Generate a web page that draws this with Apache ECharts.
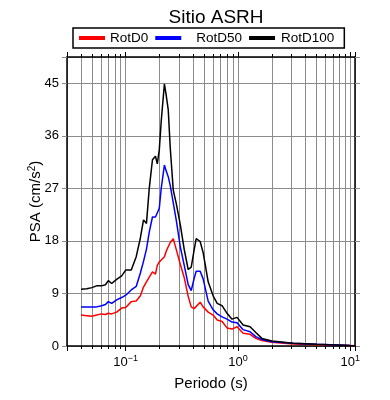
<!DOCTYPE html>
<html>
<head>
<meta charset="utf-8">
<script src="https://cdn.jsdelivr.net/npm/echarts@6/dist/echarts.min.js"></script>
<style>
  html, body { margin: 0; padding: 0; background: #fff; }
  #chart { width: 390px; height: 400px; }
</style>
</head>
<body>
<div id="chart"></div>
<script>
// periodo (s)
const periods = [0.040, 0.045, 0.050, 0.055, 0.061, 0.066, 0.070, 0.075, 0.083, 0.092,
  0.10, 0.112, 0.124, 0.135, 0.144, 0.153, 0.162, 0.173, 0.184, 0.191,
  0.199, 0.207, 0.221, 0.229, 0.239, 0.249, 0.265, 0.282, 0.306, 0.332,
  0.360, 0.383, 0.407, 0.424, 0.460, 0.489, 0.542, 0.600, 0.652, 0.721,
  0.798, 0.884, 0.980, 1.11, 1.28, 1.44, 1.63, 2.0, 3.1, 5.0,
  9.9, 11];

const rotD0 = [5.3, 5.2, 5.1, 5.3, 5.5, 5.4, 5.6, 5.5, 5.8, 6.5,
  6.6, 7.6, 7.7, 8.6, 10.1, 11.0, 11.8, 12.7, 12.3, 13.8,
  14.4, 14.4, 15.3, 16.2, 17.0, 17.7, 18.4, 16.5, 14.0, 11.7,
  8.5, 6.7, 6.4, 6.5, 7.5, 6.7, 5.8, 5.3, 4.45, 4.2,
  3.1, 2.9, 3.3, 2.2, 2.0, 1.3, 0.95, 0.65, 0.35, 0.2,
  0.08, 0.05];

const rotD50 = [6.7, 6.7, 6.7, 6.7, 6.9, 7.1, 7.6, 7.3, 7.9, 8.3,
  8.7, 9.6, 10.2, 12.5, 14.5, 16.6, 19.5, 22.1, 22.1, 22.0,
  23.6, 27.0, 31.0, 30.0, 29.0, 27.5, 24.5, 21.5, 17.0, 13.8,
  10.5, 9.5, 11.6, 12.8, 12.8, 11.5, 7.7, 6.2, 5.5, 5.0,
  4.6, 4.1, 4.0, 2.8, 2.45, 1.6, 1.1, 0.72, 0.45, 0.28,
  0.07, 0.05];

const rotD100 = [9.7, 9.8, 10.0, 10.3, 10.3, 10.5, 11.2, 10.7, 11.4, 12.0,
  13.0, 13.0, 15.3, 18.5, 21.6, 21.0, 27.0, 31.9, 32.5, 31.2,
  33.6, 38.5, 44.9, 43.0, 40.5, 34.0, 26.7, 24.4, 20.8, 16.5,
  13.1, 13.5, 16.5, 18.4, 17.9, 16.0, 11.0, 8.6, 7.3, 6.9,
  5.6, 4.6, 4.9, 3.6, 3.3, 2.3, 1.3, 0.85, 0.46, 0.28,
  0.08, 0.05];

const yTicks = [0, 9, 18, 27, 36, 45];
const xMin = 0.03, xMax = 11, yMax = 49.5;

const font = 'Liberation Sans';
const gridColor = '#8c8c8c';

function pairs(vals) {
  return periods.map((p, i) => [p, vals[i]]);
}

function powLabel(v) {
  const e = Math.log10(v);
  const r = Math.round(e);
  if (Math.abs(e - r) > 1e-6) return '';
  return '{b|10}{s|' + (r < 0 ? '\u2212' + (-r) : r) + '}';
}

const chart = echarts.init(document.getElementById('chart'));

const mkSeries = (name, vals, color) => ({
  name: name,
  type: 'line',
  data: pairs(vals),
  showSymbol: false,
  symbol: 'none',
  lineStyle: { color: color, width: 1.5 },
  itemStyle: { color: color },
  animation: false
});

chart.setOption({
  animation: false,
  title: {
    text: 'Sitio ASRH',
    left: 211,
    textAlign: 'center',
    top: 3,
    textStyle: { fontFamily: font, fontSize: 19, fontWeight: 'normal', color: '#000' }
  },
  legend: {
    left: 73,
    top: 28,
    padding: [3, 10, 3, 6],
    borderColor: '#000',
    borderWidth: 1.5,
    borderRadius: 0,
    backgroundColor: '#fff',
    icon: 'rect',
    itemWidth: 26,
    itemHeight: 4,
    itemGap: 7,
    textStyle: { fontFamily: font, fontSize: 13.5, color: '#000' },
    data: [
      { name: 'RotD0' },
      { name: 'RotD50', textStyle: { padding: [0, 4, 0, 10] } },
      { name: 'RotD100', textStyle: { padding: [0, 0, 0, 1] } }
    ]
  },
  grid: { left: 67, right: 35, top: 57, bottom: 54 },
  xAxis: [{
    type: 'log',
    logBase: 10,
    min: xMin,
    max: xMax,
    name: 'Periodo (s)',
    nameLocation: 'middle',
    nameGap: 30,
    nameMoveOverlap: false,
    nameTextStyle: { fontFamily: font, fontSize: 15, color: '#000' },
    axisLine: { show: true, onZero: false, lineStyle: { color: '#000', width: 1.5 } },
    axisTick: { show: true, inside: false, length: 5, lineStyle: { color: '#000' } },
    minorTick: { show: true, splitNumber: 9, length: 3, lineStyle: { color: '#000' } },
    splitLine: { show: true, lineStyle: { color: gridColor, width: 1 } },
    minorSplitLine: { show: true, lineStyle: { color: gridColor, width: 1 } },
    axisLabel: {
      margin: 8,
      showMinLabel: false,
      showMaxLabel: false,
      formatter: powLabel,
      rich: {
        b: { fontFamily: font, fontSize: 13, color: '#000' },
        s: { fontFamily: font, fontSize: 9, color: '#000', padding: [0, 0, 7, 0] }
      }
    }
  }, {
    type: 'log',
    logBase: 10,
    min: xMin,
    max: xMax,
    position: 'top',
    axisLine: { show: true, onZero: false, lineStyle: { color: '#000', width: 1.5 } },
    axisTick: { show: true, inside: false, length: 5, lineStyle: { color: '#000' } },
    minorTick: { show: true, splitNumber: 9, length: 3, lineStyle: { color: '#000' } },
    splitLine: { show: false },
    axisLabel: { show: false }
  }],
  yAxis: [{
    type: 'value',
    min: 0,
    max: yMax,
    interval: 9,
    name: 'PSA (cm/s{sup|2})',
    nameLocation: 'middle',
    nameGap: 23,
    nameRotate: 90,
    nameMoveOverlap: false,
    nameTextStyle: {
      fontFamily: font, fontSize: 15, color: '#000',
      rich: { sup: { fontFamily: font, fontSize: 10, color: '#000', padding: [0, 0, 7, 0] } }
    },
    axisLine: { show: true, lineStyle: { color: '#000', width: 1.5 } },
    axisTick: { show: true, inside: false, length: 5, lineStyle: { color: gridColor } },
    splitLine: { show: true, lineStyle: { color: gridColor, width: 1 } },
    axisLabel: {
      margin: 8,
      fontFamily: font,
      fontSize: 13,
      color: '#000',
      formatter: v => (yTicks.indexOf(v) >= 0 ? String(v) : '')
    }
  }, {
    type: 'value',
    min: 0,
    max: yMax,
    interval: 9,
    position: 'right',
    axisLine: { show: true, lineStyle: { color: '#000', width: 1.5 } },
    axisTick: { show: true, inside: false, length: 5, lineStyle: { color: gridColor } },
    splitLine: { show: false },
    axisLabel: { show: false }
  }],
  series: [
    mkSeries('RotD0', rotD0, '#ff0000'),
    mkSeries('RotD50', rotD50, '#0000ff'),
    mkSeries('RotD100', rotD100, '#000000')
  ]
});
</script>
</body>
</html>
